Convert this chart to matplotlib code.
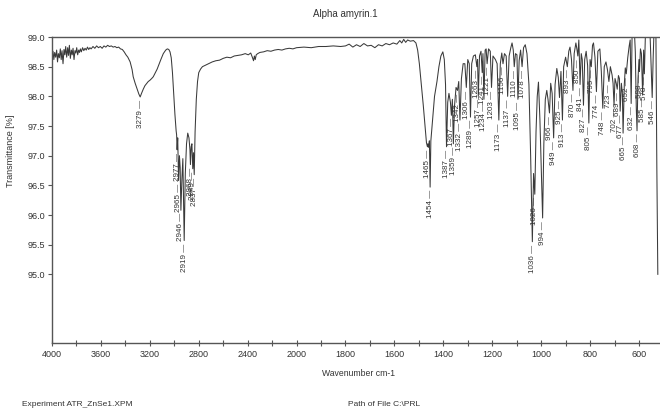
import numpy as np
import matplotlib
matplotlib.use("Agg")
import matplotlib.pyplot as plt
from matplotlib.ticker import FixedLocator, FormatStrFormatter

# spectrum vertices (wavenumber cm-1, transmittance %)
wavenumber = [
    4000, 3992, 3985, 3978, 3970, 3962, 3955, 3948, 3940, 3932, 3925, 3918, 3910, 3902,
    3895, 3888, 3880, 3872, 3865, 3858, 3850, 3842, 3835, 3828, 3820, 3812, 3805, 3798,
    3790, 3782, 3775, 3768, 3760, 3750, 3740, 3730, 3720, 3710, 3700, 3690, 3680, 3665,
    3650, 3635, 3620, 3605, 3590, 3575, 3560, 3545, 3530, 3515, 3500, 3485, 3470, 3455,
    3440, 3425, 3410, 3395, 3380, 3361, 3345, 3336, 3320, 3303, 3290, 3279, 3268, 3254,
    3240, 3225, 3213, 3200, 3185, 3172, 3155, 3140, 3125, 3110, 3090, 3070, 3057, 3045,
    3035, 3025, 3015, 3005, 2995, 2985, 2981, 2977, 2972, 2965, 2958, 2952, 2946, 2938,
    2930, 2919, 2910, 2900, 2890, 2880, 2872, 2868, 2862, 2856, 2849, 2843, 2837, 2830,
    2820, 2810, 2800, 2785, 2770, 2750, 2720, 2690, 2660, 2630, 2600, 2570, 2540, 2510,
    2480, 2450, 2420, 2395, 2375, 2362, 2352, 2345, 2338, 2330, 2318, 2300, 2270, 2240,
    2210, 2180, 2150, 2120, 2090, 2060, 2030, 2000, 1970, 1940, 1910, 1880, 1850, 1820,
    1800, 1785, 1770, 1755, 1740, 1725, 1710, 1695, 1680, 1665, 1650, 1635, 1620, 1605,
    1590, 1578, 1570, 1562, 1554, 1546, 1535, 1522, 1512, 1505, 1498, 1490, 1482, 1475,
    1469, 1465, 1463, 1460, 1457, 1454, 1451, 1445, 1436, 1426, 1418, 1410, 1402, 1396,
    1391, 1387, 1382, 1377, 1371, 1367, 1363, 1359, 1354, 1348, 1342, 1337, 1332, 1326,
    1319, 1312, 1306, 1300, 1294, 1289, 1284, 1277, 1269, 1263, 1260, 1257, 1252, 1246,
    1241, 1238, 1234, 1229, 1225, 1221, 1215, 1208, 1203, 1197, 1187, 1180, 1173, 1167,
    1161, 1156, 1150, 1143, 1137, 1131, 1124, 1119, 1114, 1110, 1105, 1099, 1095, 1090,
    1084, 1078, 1072, 1065, 1058, 1050, 1043, 1036, 1031, 1026, 1021, 1016, 1011, 1005,
    999, 994, 989, 983, 977, 972, 966, 961, 955, 949, 943, 936, 930, 925,
    919, 913, 908, 900, 893, 887, 882, 876, 870, 865, 858, 854, 850, 846,
    843, 841, 836, 832, 827, 822, 816, 810, 805, 800, 795, 790, 786, 780,
    774, 768, 760, 754, 748, 742, 735, 729, 723, 717, 710, 706, 702, 698,
    693, 689, 684, 680, 677, 672, 668, 665, 660, 656, 652, 646, 640, 636,
    632, 628, 621, 615, 611, 608, 604, 600, 598, 594, 590, 585, 581, 578,
    574, 566, 556, 550, 546, 542, 537, 531, 527, 523,
]
transmittance = [
    98.70, 98.76, 98.62, 98.74, 98.66, 98.78, 98.58, 98.72, 98.65, 98.80, 98.62, 98.77, 98.55, 98.79,
    98.70, 98.84, 98.66, 98.82, 98.69, 98.86, 98.64, 98.78, 98.70, 98.81, 98.62, 98.77, 98.73, 98.82,
    98.70, 98.78, 98.74, 98.80, 98.75, 98.82, 98.77, 98.81, 98.78, 98.83, 98.79, 98.82, 98.80, 98.84,
    98.81, 98.85, 98.82, 98.84, 98.81, 98.85, 98.83, 98.86, 98.84, 98.85, 98.83, 98.84, 98.82, 98.83,
    98.80, 98.79, 98.75, 98.70, 98.66, 98.58, 98.45, 98.33, 98.22, 98.12, 98.04, 97.99, 98.05, 98.12,
    98.18, 98.22, 98.25, 98.27, 98.30, 98.33, 98.40, 98.46, 98.54, 98.62, 98.72, 98.78, 98.80, 98.79,
    98.75, 98.65, 98.40, 98.05, 97.70, 97.42, 97.35, 97.10, 97.30, 96.58, 97.00, 96.80, 96.08, 96.60,
    96.95, 95.57, 96.70, 97.20, 97.38, 97.30, 97.10, 96.85, 97.15, 97.20, 96.78, 97.05, 96.68, 97.40,
    97.95, 98.25, 98.40, 98.46, 98.50, 98.52, 98.55, 98.58, 98.60, 98.61, 98.64, 98.66, 98.65, 98.68,
    98.69, 98.70, 98.72, 98.70, 98.73, 98.66, 98.60, 98.68, 98.62, 98.70, 98.72, 98.74, 98.75, 98.77,
    98.76, 98.78, 98.79, 98.78, 98.80, 98.81, 98.80, 98.82, 98.83, 98.82, 98.84, 98.84, 98.85, 98.84,
    98.85, 98.88, 98.83, 98.87, 98.84, 98.89, 98.85, 98.86, 98.82, 98.87, 98.85, 98.89, 98.87, 98.90,
    98.88, 98.94, 98.90, 98.96, 98.91, 98.95, 98.93, 98.94, 98.90, 98.78, 98.55, 98.20, 97.85, 97.50,
    97.22, 97.15, 97.20, 97.14, 97.25, 96.47, 97.25, 97.55, 98.00, 98.25, 98.50, 98.68, 98.75, 98.62,
    98.20, 97.15, 97.90, 98.05, 97.90, 97.68, 97.95, 97.20, 97.85, 98.15, 98.10, 98.25, 97.60, 98.30,
    98.55, 98.55, 98.15, 98.62, 98.55, 97.65, 98.55, 98.68, 98.70, 98.50, 98.62, 98.00, 98.68, 98.76,
    98.40, 98.72, 97.95, 98.78, 98.80, 98.55, 98.80, 98.76, 98.15, 98.68, 98.62, 98.55, 97.60, 98.55,
    98.73, 98.55, 98.72, 98.68, 98.00, 98.68, 98.82, 98.90, 98.78, 98.50, 98.72, 98.70, 97.95, 98.60,
    98.78, 98.50, 98.82, 98.87, 98.72, 98.20, 97.00, 95.55, 96.70, 96.35, 97.40, 98.00, 98.24, 97.60,
    96.70, 95.95, 97.20, 97.95, 98.10, 97.95, 97.72, 98.22, 98.05, 97.30, 98.20, 98.47, 98.32, 97.98,
    98.42, 97.60, 98.50, 98.66, 98.50, 98.76, 98.83, 98.62, 98.10, 98.72, 98.90, 98.80, 98.68, 98.95,
    98.55, 98.20, 98.72, 98.62, 97.85, 98.62, 98.76, 98.52, 97.55, 98.62, 98.50, 98.86, 98.90, 98.66,
    98.08, 98.76, 98.80, 98.42, 97.80, 98.50, 98.58, 98.45, 98.25, 98.50, 98.36, 98.22, 97.85, 98.30,
    98.22, 98.12, 98.35, 98.30, 97.75, 98.22, 98.05, 97.38, 98.20, 98.48, 98.38, 98.65, 98.85, 98.95,
    97.88, 99.10, 99.30, 98.75, 97.80, 97.42, 98.30, 98.62, 98.42, 98.80, 98.72, 98.02, 98.78, 98.38,
    99.00, 99.30, 99.20, 98.45, 97.98, 98.65, 99.30, 99.20, 96.80, 95.00,
]

# picked peaks
peaks = [
    3279, 2977, 2965, 2946, 2919, 2868, 2849, 2837, 1465, 1454, 1387, 1367, 1359, 1342,
    1332, 1306, 1289, 1263, 1257, 1241, 1234, 1221, 1203, 1173, 1156, 1137, 1110, 1095,
    1078, 1036, 1026, 994, 966, 949, 925, 913, 893, 870, 850, 841, 827, 805, 795, 774,
    748, 723, 702, 689, 677, 665, 652, 632, 608, 598, 585, 578, 546,
]

major_ticks = [4000, 3600, 3200, 2800, 2400, 2000, 1800, 1600, 1400, 1200, 1000, 800, 600]
minor_ticks = [3800, 3400, 3000, 2600, 2200, 1900, 1700, 1500, 1300, 1100, 900, 700]
y_ticks = [95.0, 95.5, 96.0, 96.5, 97.0, 97.5, 98.0, 98.5, 99.0]


# above 2000 cm-1 the axis is compressed by a factor of two
def fwd(w):
    w = np.asarray(w, dtype=float)
    return np.where(w > 2000, 2000 + (w - 2000) / 2, w)


def inv(u):
    u = np.asarray(u, dtype=float)
    return np.where(u > 2000, 2000 + (u - 2000) * 2, u)


def main():
    plt.rcParams['font.family'] = ['Liberation Sans', 'DejaVu Sans']
    txt = '#333333'
    frame = '#555555'

    fig = plt.figure(figsize=(6.6, 4.09), dpi=100)
    ax = fig.add_axes([0.0788, 0.161, 0.919, 0.7485])
    ax.set_xscale('function', functions=(fwd, inv))
    ax.plot(wavenumber, transmittance, color='#3a3a3a', lw=0.75)
    ax.set_xlim(4000, 520)
    ax.set_ylim(93.84, 99.0)

    w_asc = np.array(wavenumber[::-1], dtype=float)
    t_asc = np.array(transmittance[::-1], dtype=float)
    for p in peaks:
        y = np.interp(p, w_asc, t_asc) - 0.05
        ax.text(p, y, f"{p} \u2014", rotation=90, ha='center', va='top',
                fontsize=5.8, color=txt)

    ax.xaxis.set_major_locator(FixedLocator(major_ticks))
    ax.xaxis.set_minor_locator(FixedLocator(minor_ticks))
    ax.xaxis.set_major_formatter(FormatStrFormatter('%d'))
    ax.set_yticks(y_ticks)
    ax.yaxis.set_major_formatter(FormatStrFormatter('%.1f'))
    ax.tick_params(axis='x', which='both', direction='inout', length=4,
                   width=0.8, color=frame, labelsize=6.5, labelcolor=txt, pad=3)
    ax.tick_params(axis='y', direction='out', length=3, width=0.8, color=frame,
                   labelsize=6.5, labelcolor=txt, pad=2)

    for side in ['left', 'bottom', 'top']:
        ax.spines[side].set_color(frame)
        ax.spines[side].set_linewidth(1.0)
    ax.spines['right'].set_visible(False)

    ax.set_xlabel("Wavenumber cm-1", fontsize=6.2, color=txt)
    ax.xaxis.set_label_coords(0.506, -0.085)
    ax.set_ylabel("Transmittance [%]", fontsize=6.5, color=txt)
    ax.yaxis.set_label_coords(-0.061, 0.63)

    fig.text(345 / 660, 1 - 14 / 409, "Alpha amyrin.1", ha='center', va='center',
             fontsize=7, color=txt)
    fig.text(22 / 660, 1 - 405 / 409, "Experiment ATR_ZnSe1.XPM", ha='left',
             va='center', fontsize=6, color=txt)
    fig.text(348 / 660, 1 - 404 / 409, "Path of File C:\\PRL", ha='left',
             va='center', fontsize=6, color=txt)

    fig.savefig("out.png", dpi=100)


if __name__ == '__main__':
    main()
